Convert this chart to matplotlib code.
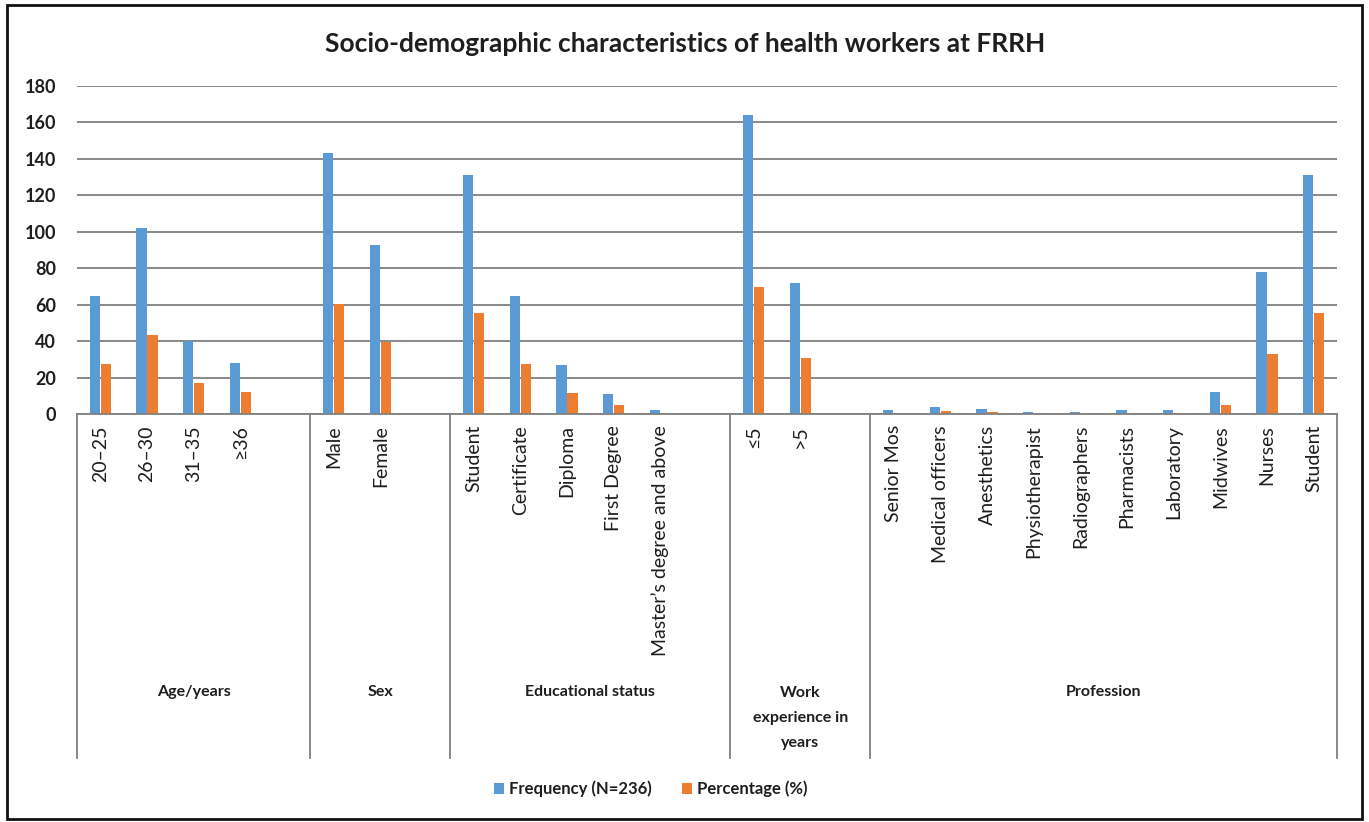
import matplotlib
matplotlib.use('Agg')
import matplotlib.pyplot as plt
from matplotlib.patches import Rectangle
from matplotlib.lines import Line2D

plt.rcParams['font.family'] = ['Lato', 'DejaVu Sans']

# categories and values, one list per group
age_cats = ['20–25', '26–30', '31–35', '≥36']
age_freq = [65, 102, 40, 28]
age_pct = [27.5, 43.2, 16.9, 11.9]

sex_cats = ['Male', 'Female']
sex_freq = [143, 93]
sex_pct = [60.6, 39.4]

edu_cats = ['Student', 'Certificate', 'Diploma', 'First Degree', 'Master’s degree and above']
edu_freq = [131, 65, 27, 11, 2]
edu_pct = [55.5, 27.5, 11.4, 4.7, 0.8]

work_cats = ['≤5', '>5']
work_freq = [164, 72]
work_pct = [69.5, 30.5]

prof_cats = ['Senior Mos', 'Medical officers', 'Anesthetics', 'Physiotherapist', 'Radiographers',
             'Pharmacists', 'Laboratory', 'Midwives', 'Nurses', 'Student']
prof_freq = [2, 4, 3, 1, 1, 2, 2, 12, 78, 131]
prof_pct = [0.8, 1.7, 1.3, 0.4, 0.4, 0.8, 0.8, 5.1, 33.1, 55.5]

group_names = ['Age/years', 'Sex', 'Educational status', 'Work\nexperience in\nyears', 'Profession']
groups = [
    (age_cats, age_freq, age_pct),
    (sex_cats, sex_freq, sex_pct),
    (edu_cats, edu_freq, edu_pct),
    (work_cats, work_freq, work_pct),
    (prof_cats, prof_freq, prof_pct),
]

blue = '#5B9BD5'
orange = '#ED7D31'

# lay out the groups along x, with one empty slot after every group but the last
xs, labels, freq, pct = [], [], [], []
bounds = [-0.5]
pos = 0
for i, (cats, f, p) in enumerate(groups):
    for c, fv, pv in zip(cats, f, p):
        xs.append(pos)
        labels.append(c)
        freq.append(fv)
        pct.append(pv)
        pos += 1
    if i < len(groups) - 1:
        pos += 1
    bounds.append(pos - 0.5)

W, H = 1369, 822
fig = plt.figure(figsize=(W / 100, H / 100), dpi=100)
ax = fig.add_axes([77 / W, 1 - 414 / H, (1337 - 77) / W, (414 - 86) / H])

bw = 0.22
ax.bar([x - 0.12 for x in xs], freq, width=bw, color=blue, label='Frequency (N=236)', zorder=3)
ax.bar([x + 0.12 for x in xs], pct, width=bw, color=orange, label='Percentage (%)', zorder=3)

ax.set_xlim(-0.5, pos - 0.5)
ax.set_ylim(0, 180)
ax.set_yticks(range(0, 181, 20))
ax.yaxis.grid(True, color='#808080', linewidth=1.3, zorder=0)
for s in ['top', 'right', 'left']:
    ax.spines[s].set_visible(False)
ax.spines['bottom'].set_color('#808080')
ax.spines['bottom'].set_linewidth(1.3)
ax.spines['bottom'].set_zorder(4)

ax.set_xticks(xs)
ax.set_xticklabels(labels, rotation=90, fontsize=14, color='#1e1e1e')
ax.tick_params(axis='x', length=0, pad=8)
ax.tick_params(axis='y', length=0, pad=15, labelsize=13, labelcolor='#1e1e1e')
for t in ax.get_yticklabels():
    t.set_fontweight('bold')

# group separators and group names below the tick labels
trans = ax.get_xaxis_transform()
y_low = (414 - 758) / (414 - 86)
for b in bounds:
    ax.add_line(Line2D([b, b], [0, y_low], transform=trans, color='#808080',
                       linewidth=1.3, clip_on=False))
for i, name in enumerate(group_names):
    mid = (bounds[i] + bounds[i + 1]) / 2
    ny = (414 - 692) / (414 - 86)
    if '\n' in name:
        ny = (414 - 718) / (414 - 86)
    ax.text(mid, ny, name, transform=trans, ha='center', va='center', fontsize=11.5,
            fontweight='bold', color='#1e1e1e', linespacing=2.0)

fig.text(685 / W, 1 - 44 / H, 'Socio-demographic characteristics of health workers at FRRH',
         ha='center', va='center', fontsize=19, fontweight='bold', color='#1e1e1e')

leg = fig.legend(loc='center', bbox_to_anchor=(651 / W, 1 - 789 / H), ncol=2, frameon=False,
                 fontsize=12, handlelength=0.6, handleheight=0.6, handletextpad=0.3,
                 columnspacing=1.8)
for t in leg.get_texts():
    t.set_fontweight('bold')
    t.set_color('#1e1e1e')

# outer frame
fig.add_artist(Rectangle((7 / W, 1 - 819 / H), (1362 - 7) / W, (819 - 5) / H,
                         transform=fig.transFigure, fill=False, edgecolor='#111111',
                         linewidth=2))

fig.savefig('out.png', dpi=100, facecolor='white')
